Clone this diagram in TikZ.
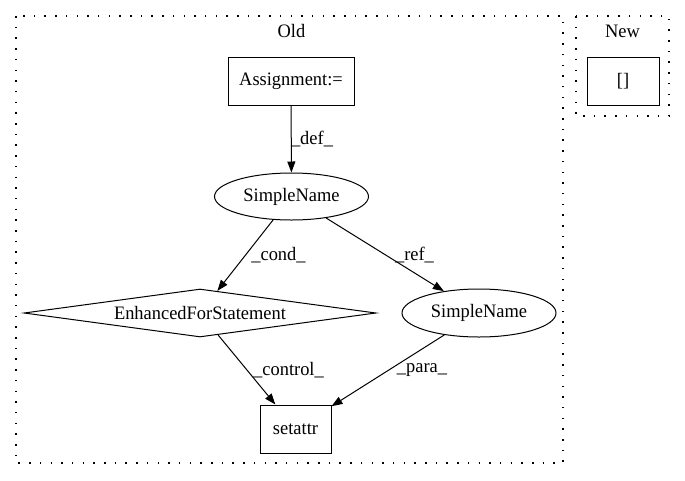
\documentclass[tikz,border=0pt]{standalone}
\usepackage{fontspec}
\setmainfont[FakeStretch=0.97]{Liberation Serif}
\usetikzlibrary{shapes.geometric,arrows.meta}
\begin{document}
\begin{tikzpicture}[x=1pt,y=-1pt,
  every node/.style={font=\fontsize{19}{21}\selectfont},
  cluster/.style={draw, line width=1.5pt, dash pattern=on 1.5pt off 9.2pt},
  rectnode/.style={draw, line width=1pt, inner sep=0pt},
  ellnode/.style={draw, ellipse, line width=1pt, inner sep=0pt, minimum width=154pt, minimum height=47pt},
  dianode/.style={draw, diamond, shape aspect=7.33, line width=1pt, inner sep=0pt, minimum width=352pt, minimum height=48pt},
  edge/.style={draw, line width=1pt, -{Triangle[length=11pt,width=8pt]}},
  elabel/.style={fill=none, inner sep=0pt}
]
\useasboundingbox (0,0) rectangle (685,480);
% clusters
\draw[cluster] (16,16) rectangle (563,463);
\draw[cluster] (576,16) rectangle (669,116);
\node (oldlbl) at (291.5,31) {Old};
\node (newlbl) at (622.5,31) {New};
% nodes
\node[rectnode, minimum width=126pt, minimum height=48pt] (assign) at (291,81) {Assignment:=};
\node[ellnode] (sn1) at (291.5,196.5) {SimpleName};
\node[dianode] (efs) at (200,313) {EnhancedForStatement};
\node[ellnode, minimum height=48pt] (sn2) at (479,313) {SimpleName};
\node[rectnode, minimum width=71pt, minimum height=48pt] (set) at (295.5,429) {setattr};
\node[rectnode, minimum width=72pt, minimum height=48pt] (newbox) at (623,81) {[]};
% edges
\draw[edge] (assign) -- (sn1);
\draw[edge] (sn1) -- (efs);
\draw[edge] (sn1) -- (sn2);
\draw[edge] (efs) -- (set);
\draw[edge] (sn2) -- (set);
% edge labels
\node[elabel] (ldef) at (312,139) {\_def\_};
\node[elabel] (lcond) at (278.5,255) {\_cond\_};
\node[elabel] (lref) at (414.5,255) {\_ref\_};
\node[elabel] (lcontrol) at (288.5,370) {\_control\_};
\node[elabel] (lpara) at (422,370) {\_para\_};
\end{tikzpicture}
\end{document}
